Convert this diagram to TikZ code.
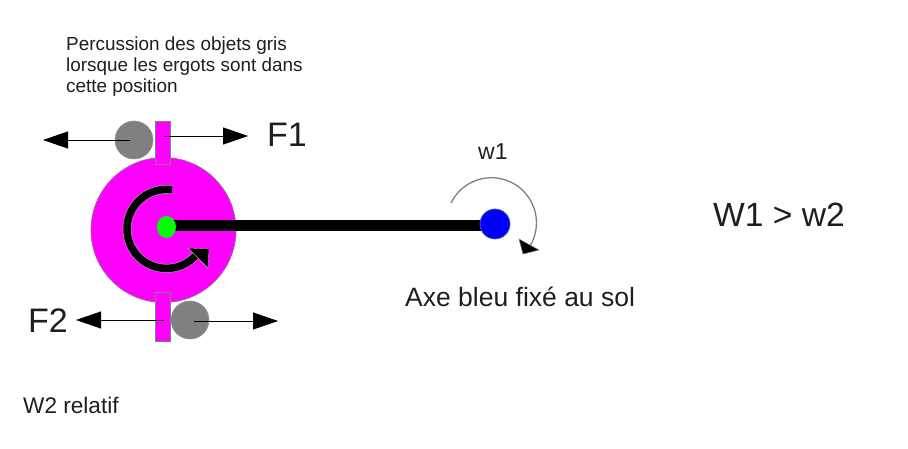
\documentclass[tikz,border=0pt]{standalone}
\usepackage{fontspec}
\setmainfont{Liberation Sans}
\usetikzlibrary{arrows.meta,shapes.geometric}
\definecolor{mag}{RGB}{255,0,255}
\definecolor{grayball}{RGB}{128,128,128}
\definecolor{txt}{RGB}{30,30,30}
\tikzset{
  lab/.style={inner sep=0pt,anchor=base west,text=txt},
  ball/.style={circle,fill=grayball,draw=grayball!85!white,line width=.6pt,inner sep=0pt,minimum size=38pt},
  tab/.style={rectangle,fill=mag,draw=gray,line width=.9pt,inner sep=0pt,minimum width=15pt},
  force/.style={black,line width=.8pt,-{Triangle[length=25pt,width=17pt]}},
}
\begin{document}
\begin{tikzpicture}[x=1pt,y=-1pt]
\useasboundingbox (0,0) rectangle (908,449);
\node[circle,fill=mag,draw=gray!80!mag,line width=.7pt,inner sep=0pt,minimum size=145pt] (disc) at (163.5,230) {};
\node[tab,minimum height=43.5pt] (tabtop) at (163.3,143) {};
\node[tab,minimum height=49pt] (tabbot) at (163.3,316.5) {};
\node[ball] (balltop) at (134,140) {};
\node[ball] (ballbot) at (190,320) {};
\coordinate (ftl) at (43,140);
\coordinate (ftl0) at (130,140);
\coordinate (ftr0) at (164,136);
\coordinate (ftr) at (248,136);
\coordinate (fbl0) at (164,320);
\coordinate (fbl) at (76,320);
\coordinate (fbr0) at (194,321);
\coordinate (fbr) at (278,321);
\draw[force] (ftl0) -- (ftl);
\draw[force] (ftr0) -- (ftr);
\draw[force] (fbl0) -- (fbl);
\draw[force] (fbr0) -- (fbr);
% bar and hubs
\coordinate (barL) at (170,225.7);
\coordinate (barR) at (490,225.7);
\draw[black,line width=11.5pt] (barL) -- (barR);
\node[circle,fill=blue,draw=gray!70!blue,line width=.7pt,inner sep=0pt,minimum size=30pt] (blue) at (495,224) {};
\node[ellipse,fill=green,inner sep=0pt,minimum width=19pt,minimum height=22pt] (hub) at (166.5,227) {};
% thick rotation arrow
\draw[gray!70,line width=8.6pt] (172,189.8) arc[start angle=-82,end angle=-322,radius=39.5];
\draw[black,line width=7.5pt] (172,189.8) arc[start angle=-82,end angle=-322,radius=39.5];
\fill[black,draw=gray!70,line width=.4pt] (188,248) -- (209,249) -- (208,268) -- cycle;
% thin rotation arrow
\draw[gray,line width=1.3pt] (451,203) arc[start angle=-154,end angle=30,radius=45];
\fill[black,draw=gray,line width=.5pt] (519,239) -- (539,250) -- (523,254) -- cycle;
\node[lab,font=\fontsize{18.9pt}{19pt}\selectfont] (t1) at (66,51) {Percussion des objets gris};
\node[lab,font=\fontsize{18.9pt}{19pt}\selectfont] (t2) at (66,72) {lorsque les ergots sont dans};
\node[lab,font=\fontsize{18.9pt}{19pt}\selectfont] (t3) at (66,93) {cette position};
\node[lab,font=\fontsize{34pt}{36pt}\selectfont] (f1) at (267,147) {F1};
\node[lab,font=\fontsize{34pt}{36pt}\selectfont] (f2) at (28,332) {F2};
\node[lab,font=\fontsize{23pt}{24pt}\selectfont] (w1) at (478,160) {w1};
\node[lab,font=\fontsize{33.6pt}{36pt}\selectfont] (ww) at (713,227) {W1 > w2};
\node[lab,font=\fontsize{26.5pt}{28pt}\selectfont] (axe) at (405,306) {Axe bleu fixé au sol};
\node[lab,font=\fontsize{22.6pt}{24pt}\selectfont] (w2) at (23,413) {W2 relatif};
\end{tikzpicture}
\end{document}
